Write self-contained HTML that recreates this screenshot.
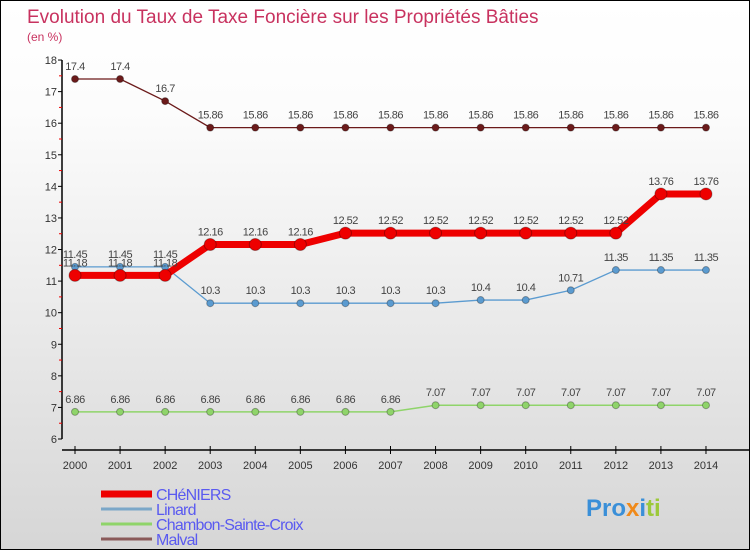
<!DOCTYPE html>
<html><head><meta charset="utf-8"><style>
body{margin:0}
#wrap{position:relative;width:748px;height:548px;border:1px solid #000;background:linear-gradient(#fff,#fcfcfc 20%,#d6d6d6);font-family:"Liberation Sans",sans-serif;overflow:hidden}
</style></head><body>
<div id="wrap">
<svg id="c" width="748" height="548"></svg>
</div>
<script>
const years=[2000,2001,2002,2003,2004,2005,2006,2007,2008,2009,2010,2011,2012,2013,2014];
const cheniers=[11.18,11.18,11.18,12.16,12.16,12.16,12.52,12.52,12.52,12.52,12.52,12.52,12.52,13.76,13.76];
const linard=[11.45,11.45,11.45,10.3,10.3,10.3,10.3,10.3,10.3,10.4,10.4,10.71,11.35,11.35,11.35];
const chambon=[6.86,6.86,6.86,6.86,6.86,6.86,6.86,6.86,7.07,7.07,7.07,7.07,7.07,7.07,7.07];
const malval=[17.4,17.4,16.7,15.86,15.86,15.86,15.86,15.86,15.86,15.86,15.86,15.86,15.86,15.86,15.86];
const yTicks=[6,7,8,9,10,11,12,13,14,15,16,17,18];
const ns="http://www.w3.org/2000/svg",svg=document.getElementById('c');
function X(i){return 74+i*45.07;}
function Y(v){return 438-(v-6)*31.58;}
function mk(t,a,p){const e=document.createElementNS(ns,t);for(const k in a)e.setAttribute(k,a[k]);(p||svg).appendChild(e);return e;}
function txt(x,y,s,a){const e=mk('text',Object.assign({x:x,y:y},a));e.textContent=s;return e;}
let t=txt(26,22,'Evolution du Taux de Taxe Foncière sur les Propriétés Bâties',{fill:'#c8325f','font-size':19});

t=txt(26,40,'(en %)',{fill:'#c8325f','font-size':12});

let ax=mk('line',{x1:61,y1:Y(18),x2:61,y2:Y(6),stroke:'#000','stroke-width':1.5});

yTicks.forEach(v=>{mk('line',{x1:57,x2:61,y1:Y(v),y2:Y(v),stroke:'#000'});
 if(v<18)mk('line',{x1:58,x2:61,y1:Y(v+0.5),y2:Y(v+0.5),stroke:'#e00'});
 const l=txt(56,Y(v)+4,String(v),{'font-size':11,fill:'#333','text-anchor':'end'});
 });
ax=mk('line',{x1:61,y1:449,x2:748,y2:449,stroke:'#000','stroke-width':1.5});

years.forEach((y,i)=>{mk('line',{x1:X(i),x2:X(i),y1:445,y2:453,stroke:'#000'});
 const l=txt(X(i),468,String(y),{'font-size':11,fill:'#333','text-anchor':'middle'});
 });
function series(vals,color,w,r,name){
 const g=mk('g',{});
 mk('polyline',{points:vals.map((v,i)=>X(i)+','+Y(v)).join(' '),fill:'none',stroke:color,'stroke-width':w},g);
 vals.forEach((v,i)=>{const c=mk('circle',{cx:X(i),cy:Y(v),r:r,fill:color,stroke:'rgba(0,0,0,0.3)'},g);
  
  const l=txt(X(i),Y(v)-9,String(v),{'font-size':11,fill:'#444','text-anchor':'middle','letter-spacing':'-0.5'},g);
  });
}
series(malval,'#6b1a1a',1.3,3.5,'malval');
series(chambon,'#8fd46a',1.5,3.5,'chambon');
series(linard,'#5b9bd0',1.3,3.5,'linard');
series(cheniers,'#ee0000',7,6,'cheniers');
const leg=[['CHéNIERS','#ee0000',7],['Linard','#7ba7c8',3],['Chambon-Sainte-Croix','#8fd46a',3],['Malval','#8a5a5a',3]];
leg.forEach((d,i)=>{const g=mk('g',{});
 const y=492+i*15;mk('line',{x1:100,x2:151,y1:y+1,y2:y+1,stroke:d[1],'stroke-width':d[2]},g);
 txt(155,y+7,d[0],{'font-size':16,fill:'#5a5af0','letter-spacing':'-0.8'},g);});
t=txt(585,515,'Pro',{'font-size':24,'font-weight':'bold',fill:'#3a8fd8'});

t.innerHTML='<tspan fill="#3a8fd8">Pro</tspan><tspan fill="#f08a1a">x</tspan><tspan fill="#3a8fd8">i</tspan><tspan fill="#9cc93a">ti</tspan>';
</script>
</body></html>
